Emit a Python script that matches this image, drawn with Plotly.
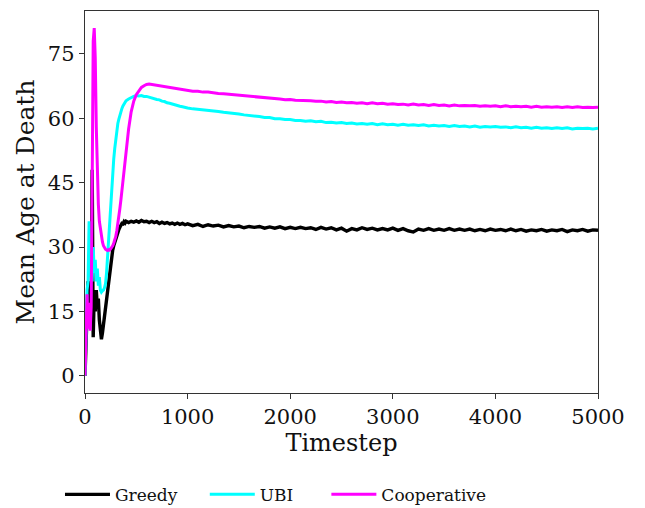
import plotly.graph_objects as go

# ---- time axis segments ----
t_early = list(range(0, 410, 10))
t_mid = list(range(425, 1000, 25))
t_late = list(range(1000, 5001, 50))

# ---- Greedy ----
greedy_early = [0, 7, 16, 22, 19, 21, 14, 48, 9, 19, 15, 20, 16, 18, 13, 10, 8.5, 10, 12, 14,
                15.5, 18, 20, 22, 24.5, 26.5, 28, 29.3, 30.3, 31.2, 32, 32.8, 33.5, 34.1, 34.6, 35.1,
                35.5, 35.4, 35.9, 35.6, 36.0]
greedy_mid = [35.7, 36.0, 35.8, 36.1, 35.8, 36.2, 35.9, 36.0, 35.7, 36.0, 35.7, 35.9, 35.5, 35.8,
              35.5, 35.7, 35.4, 35.6, 35.3, 35.6, 35.3, 35.5, 35.2]
greedy_late = [35.4, 35.0, 35.3, 34.8, 35.2, 34.9, 35.1, 34.7, 35.0, 34.7,
               34.9, 34.5, 34.8, 34.6, 34.8, 34.4, 34.7, 34.4, 34.7, 34.3,
               34.6, 34.3, 34.6, 34.3, 34.5, 34.1, 34.6, 34.2, 34.5, 34.0,
               34.4, 33.7, 34.3, 34.0, 34.5, 34.1, 34.4, 34.0, 34.3, 34.0,
               34.4, 33.9, 34.3, 33.8, 33.5, 34.2, 33.9, 34.3, 33.9, 34.2,
               33.9, 34.3, 33.9, 34.2, 33.9, 34.2, 33.8, 34.1, 33.8, 34.2,
               33.9, 34.1, 33.8, 34.2, 33.8, 34.1, 33.7, 34.0, 33.8, 34.1,
               33.7, 34.0, 33.8, 34.1, 33.6, 34.0, 33.8, 34.1, 33.7, 34.0,
               33.9]

# ---- UBI ----
ubi_early = [0, 10, 20, 22, 36, 23, 28, 22, 30, 24, 27, 22, 25, 21, 23, 20, 19.5, 19.8, 20, 20.5,
             21.5, 24, 28, 32, 36.5, 41, 44.5, 47.5, 50.5, 53, 55.5, 57.3, 58.8, 59.8, 60.8, 61.6,
             62.3, 62.9, 63.4, 63.8, 64.1]
ubi_mid = [64.5, 64.9, 65.1, 65.3, 65.2, 65.3, 65.1, 65.1, 64.9, 64.8, 64.6, 64.4, 64.3, 64.0,
           63.9, 63.6, 63.5, 63.3, 63.2, 62.9, 62.8, 62.7, 62.5]
ubi_late = [62.4, 62.2, 62.1, 61.9, 61.9, 61.7, 61.6, 61.4, 61.3, 61.1,
            61.0, 60.8, 60.7, 60.5, 60.4, 60.2, 60.2, 59.9, 59.9, 59.7,
            59.7, 59.5, 59.5, 59.3, 59.4, 59.2, 59.3, 59.0, 59.1, 58.9,
            59.0, 58.8, 58.9, 58.7, 58.8, 58.6, 58.8, 58.5, 58.7, 58.5,
            58.6, 58.4, 58.6, 58.4, 58.5, 58.3, 58.5, 58.2, 58.4, 58.2,
            58.3, 58.1, 58.3, 58.1, 58.2, 58.0, 58.2, 57.9, 58.1, 58.0,
            58.1, 57.9, 58.0, 57.8, 58.0, 57.8, 57.9, 57.7, 57.9, 57.7,
            57.8, 57.6, 57.8, 57.6, 57.8, 57.5, 57.7, 57.6, 57.7, 57.5,
            57.7]

# ---- Cooperative ----
coop_early = [0, 13, 19, 11, 17, 10.5, 16, 45, 78, 81, 74, 58, 46, 40, 36, 34, 32.5, 31.2, 30.3,
              29.8, 29.5, 29.3, 29.2, 29.4, 29.3, 29.6, 29.9, 30.3, 30.9, 31.6, 32.5, 33.8, 35.3,
              37, 39, 41, 43.2, 45.5, 48, 50.3, 52.5]
coop_mid = [57.5, 61.5, 64, 65.5, 66.5, 67.2, 67.6, 67.9, 68.0, 67.9, 67.9, 67.7, 67.6, 67.5,
            67.4, 67.3, 67.2, 67.1, 67.0, 66.9, 66.8, 66.7, 66.6]
coop_late = [66.5, 66.3, 66.3, 66.1, 66.1, 65.9, 65.8, 65.7, 65.6, 65.4,
             65.3, 65.2, 65.1, 65.0, 64.9, 64.8, 64.7, 64.6, 64.5, 64.3,
             64.4, 64.2, 64.2, 64.1, 64.1, 64.0, 64.0, 63.8, 63.9, 63.7,
             63.8, 63.6, 63.7, 63.5, 63.6, 63.4, 63.6, 63.4, 63.5, 63.3,
             63.4, 63.2, 63.3, 63.1, 63.3, 63.1, 63.2, 63.0, 63.2, 63.0,
             63.1, 62.9, 63.1, 62.9, 63.0, 62.9, 63.0, 62.8, 62.9, 62.8,
             62.9, 62.7, 62.9, 62.7, 62.8, 62.7, 62.8, 62.6, 62.8, 62.6,
             62.7, 62.6, 62.7, 62.5, 62.7, 62.5, 62.7, 62.5, 62.6, 62.5,
             62.6]

series_names = ["Greedy", "UBI", "Cooperative"]
series_colors = ["#000000", "#00FFFF", "#FF00FF"]
series_widths = [3.4, 3.0, 3.0]
x_ticks = [0, 1000, 2000, 3000, 4000, 5000]
y_ticks = [0, 15, 30, 45, 60, 75]

t_all = t_early + t_mid + t_late
series_values = [greedy_early + greedy_mid + greedy_late,
                 ubi_early + ubi_mid + ubi_late,
                 coop_early + coop_mid + coop_late]

FONT = "DejaVu Serif"
fig = go.Figure()
legend_ids = ["legend", "legend2", "legend3"]
for name, color, w, vals, lg in zip(series_names, series_colors, series_widths, series_values, legend_ids):
    fig.add_trace(go.Scatter(x=t_all, y=vals, mode="lines", name=name, showlegend=True,
                             line=dict(color=color, width=w), legend=lg))

axis_common = dict(showline=True, linecolor="#333333", linewidth=1.4, mirror=True,
                   ticks="outside", ticklen=5, tickwidth=1.2, tickcolor="#333333",
                   showgrid=False, zeroline=False,
                   tickfont=dict(family=FONT, size=21, color="#111111"))

leg_common = dict(orientation="h", xref="container", yref="container",
                  yanchor="middle", y=0.026, xanchor="left",
                  font=dict(family=FONT, size=17, color="#111111"),
                  bgcolor="rgba(0,0,0,0)", itemwidth=45)

fig.update_layout(
    width=645, height=508,
    showlegend=True,
    margin=dict(l=85, r=47, t=11, b=115, autoexpand=False),
    paper_bgcolor="white", plot_bgcolor="white",
    font=dict(family=FONT, color="#111111"),
    xaxis=dict(range=[0, 5000], tickvals=x_ticks, **axis_common,
               title=dict(text="Timestep", font=dict(family=FONT, size=24), standoff=4)),
    yaxis=dict(range=[-4, 85], tickvals=y_ticks, **axis_common,
               title=dict(text="Mean Age at Death", font=dict(family=FONT, size=25), standoff=6)),
    legend=dict(x=0.093, **leg_common),
    legend2=dict(x=0.3175, **leg_common),
    legend3=dict(x=0.506, **leg_common),
)

fig.write_html("out.html")
